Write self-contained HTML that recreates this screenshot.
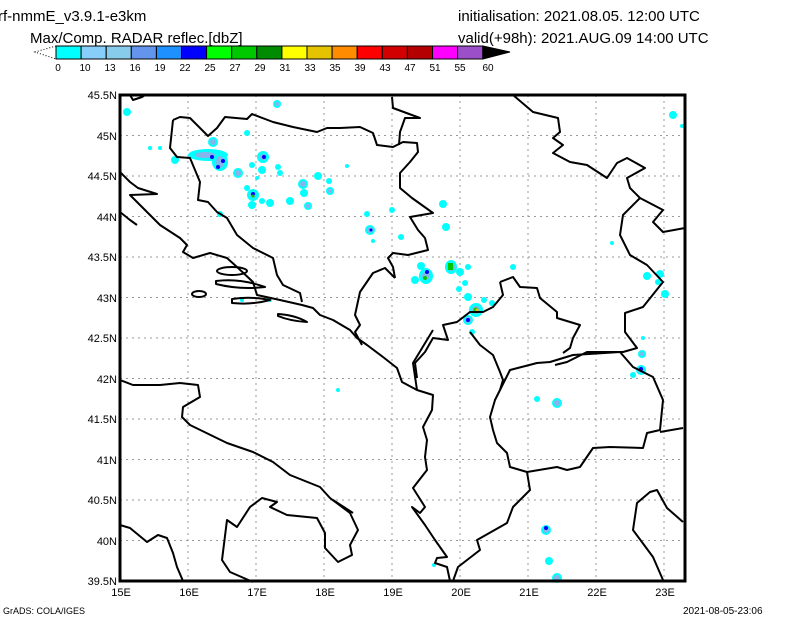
<!DOCTYPE html>
<html><head><meta charset="utf-8"><style>
html,body{margin:0;padding:0;background:#fff;}
svg{display:block;}
text{font-family:"Liberation Sans",sans-serif;fill:#000;}
</style></head><body>
<svg width="800" height="618" viewBox="0 0 800 618" xmlns="http://www.w3.org/2000/svg">
<rect width="800" height="618" fill="#fff"/>
<text x="-2" y="21" font-size="15">rf-nmmE_v3.9.1-e3km</text>
<text x="458" y="21" font-size="15">initialisation: 2021.08.05. 12:00 UTC</text>
<text x="30" y="43" font-size="15">Max/Comp. RADAR reflec.[dbZ]</text>
<text x="458" y="43" font-size="15">valid(+98h): 2021.AUG.09 14:00 UTC</text>
<!-- colorbar -->
<g stroke="#000" stroke-width="1">
<polyline points="56,46 35,52 56,59" fill="none" stroke-dasharray="1,2"/>
<rect x="56" y="46" width="25.1" height="13" fill="#00ffff"/>
<rect x="81.1" y="46" width="25.1" height="13" fill="#87cefa"/>
<rect x="106.2" y="46" width="25.1" height="13" fill="#87cceb"/>
<rect x="131.3" y="46" width="25.1" height="13" fill="#6495ed"/>
<rect x="156.4" y="46" width="25.1" height="13" fill="#1e90ff"/>
<rect x="181.5" y="46" width="25.1" height="13" fill="#0000ff"/>
<rect x="206.6" y="46" width="25.1" height="13" fill="#00ff00"/>
<rect x="231.7" y="46" width="25.1" height="13" fill="#00c800"/>
<rect x="256.8" y="46" width="25.1" height="13" fill="#008c00"/>
<rect x="281.9" y="46" width="25.1" height="13" fill="#ffff00"/>
<rect x="307" y="46" width="25.1" height="13" fill="#e6c300"/>
<rect x="332.1" y="46" width="25.1" height="13" fill="#ff8c00"/>
<rect x="357.2" y="46" width="25.1" height="13" fill="#ff0000"/>
<rect x="382.3" y="46" width="25.1" height="13" fill="#d20000"/>
<rect x="407.4" y="46" width="25.1" height="13" fill="#b40000"/>
<rect x="432.5" y="46" width="25.1" height="13" fill="#ff00ff"/>
<rect x="457.6" y="46" width="25.1" height="13" fill="#9b4fc8"/>
<polygon points="483,46 510,52 483,59" fill="#000"/>
</g>
<g font-size="10" text-anchor="middle">
<text x="58" y="71">0</text><text x="85" y="71">10</text><text x="110" y="71">13</text><text x="135" y="71">16</text><text x="160" y="71">19</text><text x="185" y="71">22</text><text x="210" y="71">25</text><text x="235" y="71">27</text><text x="260" y="71">29</text><text x="285" y="71">31</text><text x="310" y="71">33</text><text x="335" y="71">35</text><text x="360" y="71">39</text><text x="385" y="71">43</text><text x="410" y="71">47</text><text x="435" y="71">51</text><text x="460" y="71">55</text><text x="488" y="71">60</text>
</g>
<!-- grid -->
<g stroke="#999" stroke-width="1" stroke-dasharray="2,4">
<line x1="188" y1="95" x2="188" y2="581"/><line x1="256" y1="95" x2="256" y2="581"/><line x1="324" y1="95" x2="324" y2="581"/><line x1="392" y1="95" x2="392" y2="581"/><line x1="460" y1="95" x2="460" y2="581"/><line x1="528" y1="95" x2="528" y2="581"/><line x1="596" y1="95" x2="596" y2="581"/><line x1="664" y1="95" x2="664" y2="581"/>
<line x1="120" y1="135.5" x2="685" y2="135.5"/><line x1="120" y1="176" x2="685" y2="176"/><line x1="120" y1="216.5" x2="685" y2="216.5"/><line x1="120" y1="257" x2="685" y2="257"/><line x1="120" y1="297.5" x2="685" y2="297.5"/><line x1="120" y1="338" x2="685" y2="338"/><line x1="120" y1="378.5" x2="685" y2="378.5"/><line x1="120" y1="419" x2="685" y2="419"/><line x1="120" y1="459.5" x2="685" y2="459.5"/><line x1="120" y1="500" x2="685" y2="500"/><line x1="120" y1="540.5" x2="685" y2="540.5"/>
</g>
<!-- radar blobs -->
<g>
<g fill="#00ffff">
<ellipse cx="208" cy="155" rx="20" ry="6"/><ellipse cx="220" cy="162" rx="8" ry="9"/>
<circle cx="127" cy="112" r="4"/><circle cx="277" cy="104" r="4"/><circle cx="213" cy="142" r="5"/><circle cx="247" cy="133" r="3"/><circle cx="175" cy="160" r="4"/><circle cx="150" cy="148" r="2"/><circle cx="160" cy="148" r="2"/><circle cx="263" cy="157" r="6"/><circle cx="252" cy="165" r="3"/><circle cx="262" cy="170" r="4"/><circle cx="278" cy="167" r="3"/><circle cx="280" cy="173" r="3"/><circle cx="238" cy="173" r="5"/><circle cx="257" cy="178" r="2"/><circle cx="247" cy="188" r="3"/><circle cx="253" cy="195" r="6"/><circle cx="252" cy="205" r="4"/><circle cx="262" cy="201" r="3"/><circle cx="270" cy="203" r="4"/><circle cx="290" cy="201" r="4"/><circle cx="303" cy="184" r="5"/><circle cx="304" cy="193" r="4"/><circle cx="308" cy="206" r="4"/><circle cx="318" cy="176" r="4"/><circle cx="329" cy="181" r="3"/><circle cx="330" cy="191" r="4"/><circle cx="347" cy="166" r="2"/><circle cx="220" cy="214" r="3"/>
<circle cx="673" cy="115" r="4"/><circle cx="682" cy="126" r="2"/><circle cx="370" cy="230" r="5"/><circle cx="392" cy="210" r="3"/><circle cx="443" cy="204" r="4"/><circle cx="446" cy="227" r="4"/><circle cx="367" cy="214" r="3"/><circle cx="373" cy="241" r="2"/><circle cx="401" cy="237" r="3"/>
<circle cx="421" cy="266" r="4"/><circle cx="415" cy="280" r="4"/><ellipse cx="426" cy="276" rx="7" ry="8"/><ellipse cx="451" cy="267" rx="6" ry="7"/><circle cx="460" cy="272" r="4"/><circle cx="468" cy="267" r="3"/><circle cx="465" cy="283" r="3"/><circle cx="459" cy="289" r="3"/><circle cx="468" cy="297" r="4"/><circle cx="484" cy="300" r="3"/><circle cx="492" cy="303" r="3"/><circle cx="476" cy="310" r="7"/><circle cx="468" cy="320" r="5"/><circle cx="472" cy="332" r="3"/><circle cx="513" cy="267" r="3"/><circle cx="612" cy="243" r="2"/><circle cx="647" cy="276" r="4"/><circle cx="660" cy="274" r="4"/><circle cx="658" cy="282" r="3"/><circle cx="665" cy="294" r="4"/><circle cx="643" cy="338" r="2"/><circle cx="642" cy="354" r="4"/><circle cx="641" cy="370" r="5"/><circle cx="633" cy="375" r="3"/>
<circle cx="537" cy="399" r="3"/><circle cx="557" cy="403" r="5"/><circle cx="546" cy="530" r="5"/><circle cx="549" cy="561" r="4"/><circle cx="557" cy="578" r="5"/><circle cx="434" cy="565" r="2"/><circle cx="242" cy="300" r="2"/><circle cx="270" cy="300" r="2"/><circle cx="338" cy="390" r="2"/>
</g>
<g fill="#87b4ea">
<ellipse cx="205" cy="155" rx="10" ry="3"/><ellipse cx="220" cy="162" rx="4" ry="6"/><circle cx="263" cy="157" r="3"/><circle cx="238" cy="173" r="3"/><circle cx="253" cy="195" r="3"/><circle cx="303" cy="184" r="3"/><circle cx="213" cy="142" r="3"/><circle cx="370" cy="230" r="3"/><circle cx="426" cy="276" r="4"/><circle cx="451" cy="267" r="4"/><circle cx="476" cy="310" r="4"/><circle cx="468" cy="320" r="3"/><circle cx="557" cy="403" r="3"/><circle cx="641" cy="370" r="3"/><circle cx="546" cy="530" r="3"/><circle cx="557" cy="578" r="3"/><circle cx="277" cy="104" r="2"/><circle cx="308" cy="206" r="2"/><circle cx="330" cy="191" r="2"/><circle cx="642" cy="354" r="2"/>
</g>
<g fill="#0000ff">
<circle cx="212" cy="157" r="2"/><circle cx="223" cy="161" r="2"/><circle cx="218" cy="167" r="2"/><circle cx="264" cy="157" r="2"/><circle cx="253" cy="194" r="2"/><circle cx="427" cy="272" r="2"/><circle cx="468" cy="320" r="2"/><circle cx="546" cy="528" r="2"/><circle cx="641" cy="369" r="2"/><circle cx="371" cy="230" r="1.5"/>
</g>
<g fill="#00c800"><rect x="448" y="263" width="5" height="7"/><circle cx="425" cy="278" r="2"/><circle cx="253" cy="196" r="1.5"/><circle cx="476" cy="310" r="2.5"/></g>
<circle cx="477" cy="310" r="1.5" fill="#e6c300"/>
</g>
<!-- coastlines/borders -->
<g fill="none" stroke="#000" stroke-width="2" stroke-linejoin="round">
<polyline points="130,95 133,100 142,97 145,95"/>
<polyline points="173,120 180,117 190,118 208,136 217,128 225,117 247,119 252,114 273,122 293,127 317,132 327,128 340,128 360,127 373,133 377,145 393,147 403,142 417,143 418,152 410,162 400,173 400,188 412,198 433,213 410,217 418,230 425,238 428,250 408,255 393,253 388,258 393,267 395,278"/>
<polyline points="392,97 393,108 420,118 405,118 400,132 399,145"/>
<polyline points="173,120 170,148 177,157 190,158 200,182 198,200 208,202 217,212 227,218 237,235 253,248 273,258 277,275 283,285 300,293 302,302"/>
<polyline points="395,278 385,268 373,273 360,292 355,315 360,325 355,332 362,345"/>
<polyline points="120,172 130,182 138,188 157,194 130,195 143,208 160,225 180,238 187,245 183,252 193,258 210,253 227,258 237,267 253,282 257,295 280,300 302,305 313,308 320,315 333,320 350,330 357,338 367,345 383,357 397,368 402,382 417,390 433,395 432,410 423,427 427,440 425,457 427,470 413,488 425,507 420,513 412,507 425,525 435,540 447,557 437,558 435,563 447,567 450,581"/>
<polyline points="120,212 130,220 137,225"/>
<polyline points="433,330 413,363 417,390"/>
<polyline points="500,282 513,277 520,287 537,288 540,298 557,312 557,318 580,325 573,338 570,348 563,353"/>
<polyline points="500,282 503,295 493,307 483,312 470,312 457,322 443,325 448,340 433,338 425,352 415,363 417,378"/>
<polyline points="470,332 480,345 493,355 500,372 503,380 500,390 495,400 490,417 493,430 497,443 507,453 510,467 527,472 530,490 513,507 507,523 477,540 480,550 458,567 453,581"/>
<polyline points="500,390 510,370 537,363 550,362 573,355 620,352 633,367 653,377 663,400 660,430 647,433 643,448 610,447 593,448 580,467 567,470 557,467 527,472"/>
<polyline points="660,432 683,428"/>
<polyline points="683,522 667,508 657,490 650,492 637,503 633,530 653,557 663,580"/>
<polyline points="513,95 533,112 558,118 560,132 553,138 563,145 553,153 570,162 587,165 607,178 617,163 627,158 645,168 627,178 630,188 640,198 663,210 653,222 663,232 685,228"/>
<polyline points="640,198 623,215 620,235 630,255 647,265 663,282 643,307 625,313 625,332 637,348 623,352 607,352 587,352 567,362 555,365"/>
<polyline points="120,380 133,385 160,385 180,383 198,385 200,397 183,407 182,417 190,425 227,443 253,452 273,462 290,475 320,487 330,498 350,513 358,530 350,545 352,555 338,562 325,548 325,533 317,518 287,515 270,507 277,502 262,498 250,507 237,527 227,520 222,560 230,572 253,582"/>
<polyline points="120,525 130,528 147,542 158,535 167,538 173,553 177,567 183,581"/>
<polyline points="333,500 353,513"/>
<ellipse cx="232" cy="271" rx="15" ry="4"/>
<path d="M216,281 Q240,278 265,287 Q240,290 216,284 Z"/>
<ellipse cx="199" cy="294" rx="7" ry="3"/>
<path d="M232,299 Q250,296 270,300 Q252,305 232,303 Z"/>
<path d="M278,314 Q295,315 307,322 Q290,321 278,316 Z"/>
</g>
<!-- frame -->
<rect x="120" y="95" width="565" height="486" fill="none" stroke="#000" stroke-width="3"/>
<g font-size="11" text-anchor="end">
<text x="117" y="99">45.5N</text><text x="117" y="140">45N</text><text x="117" y="180">44.5N</text><text x="117" y="221">44N</text><text x="117" y="261">43.5N</text><text x="117" y="302">43N</text><text x="117" y="342">42.5N</text><text x="117" y="383">42N</text><text x="117" y="423">41.5N</text><text x="117" y="464">41N</text><text x="117" y="504">40.5N</text><text x="117" y="545">40N</text><text x="117" y="585">39.5N</text>
</g>
<g font-size="11" text-anchor="middle">
<text x="121" y="596">15E</text><text x="189" y="596">16E</text><text x="257" y="596">17E</text><text x="325" y="596">18E</text><text x="393" y="596">19E</text><text x="461" y="596">20E</text><text x="529" y="596">21E</text><text x="597" y="596">22E</text><text x="665" y="596">23E</text>
</g>
<text x="3" y="614" font-size="9">GrADS: COLA/IGES</text>
<text x="683" y="614" font-size="10">2021-08-05-23:06</text>
</svg>
</body></html>
